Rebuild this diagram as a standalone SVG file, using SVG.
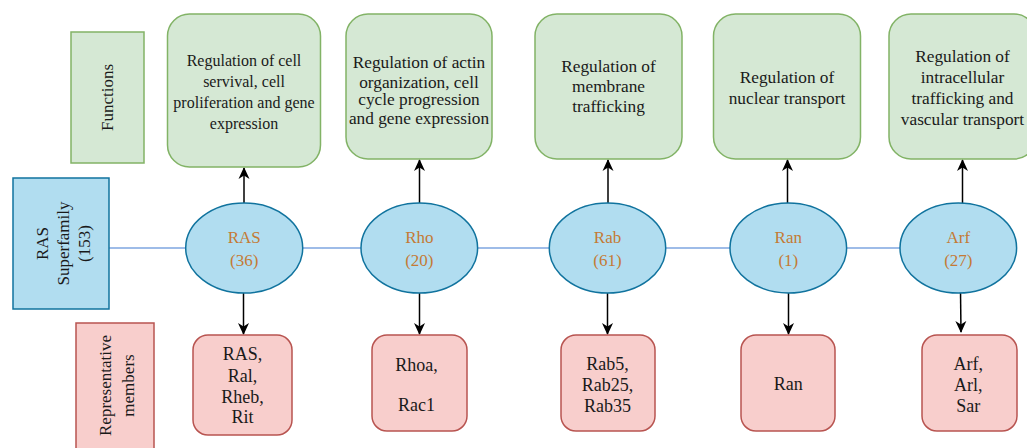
<svg xmlns="http://www.w3.org/2000/svg" width="1027" height="448" viewBox="0 0 1027 448">
<style>
text{font-family:"Liberation Serif","Times New Roman",serif;fill:#1a1a1a;text-anchor:middle}
.fn{fill:#d5e8d4;stroke:#82b366;stroke-width:1.5}
.rm{fill:#f8cecc;stroke:#b85450;stroke-width:1.5}
.bl{fill:#b1ddf0;stroke:#10739e;stroke-width:1.5}
.or{fill:#c47a35}
.hl{stroke:#7ea6e0;stroke-width:1.5;fill:none}
.ar{stroke:#000;stroke-width:1.5;fill:none;marker-end:url(#ah)}
</style>
<defs>
<marker id="ah" markerWidth="12" markerHeight="12" viewBox="0 0 12 12" refX="11" refY="6" orient="auto" markerUnits="userSpaceOnUse">
<path d="M0,0.5 L12,6 L0,11.5 L3.5,6 z" fill="#000"/>
</marker>
</defs>
<rect width="1027" height="448" fill="#fff"/>
<g id="connectors">
<path class="hl" d="M109,248 H186"/>
<path class="hl" d="M303,248 H361"/>
<path class="hl" d="M478,248 H549"/>
<path class="hl" d="M666,248 H730"/>
<path class="hl" d="M847,248 H900"/>
<path class="ar" d="M244,203 V168"/>
<path class="ar" d="M419.5,203 V160"/>
<path class="ar" d="M608,203 V160"/>
<path class="ar" d="M787.5,203 V160"/>
<path class="ar" d="M962.5,203 V160"/>
<path class="ar" d="M243.5,293 V334"/>
<path class="ar" d="M419.5,293 V334"/>
<path class="ar" d="M607.5,293 V334"/>
<path class="ar" d="M788.5,293 V334"/>
<path class="ar" d="M960.5,291 L961,332"/>
</g>
<g id="label-functions">
<rect class="fn" x="71" y="32" width="73" height="131"/>
<text transform="translate(113,97.5) rotate(-90)" font-size="17">Functions</text>
</g>
<g id="label-superfamily">
<rect class="bl" x="13" y="178" width="96" height="131"/>
<text transform="translate(48,243.5) rotate(-90)" font-size="17">RAS</text>
<text transform="translate(69,243.5) rotate(-90)" font-size="17">Superfamily</text>
<text transform="translate(90,243.5) rotate(-90)" font-size="17">(153)</text>
</g>
<g id="label-members">
<rect class="rm" x="76" y="323" width="78" height="140"/>
<text transform="translate(111,385.5) rotate(-90)" font-size="17">Representative</text>
<text transform="translate(134,385.5) rotate(-90)" font-size="17">members</text>
</g>
<g id="fn-ras">
<rect class="fn" x="167.5" y="14" width="153" height="153" rx="22"/>
<text font-size="16"><tspan x="244" y="66">Regulation of cell</tspan><tspan x="244" y="87">servival, cell</tspan><tspan x="244" y="108">proliferation and gene</tspan><tspan x="244" y="129">expression</tspan></text>
</g>
<g id="fn-rho">
<rect class="fn" x="346" y="14" width="146" height="145" rx="22"/>
<text font-size="17.3"><tspan x="419" y="68">Regulation of actin</tspan><tspan x="419" y="88">organization, cell</tspan><tspan x="419" y="105">cycle progression</tspan><tspan x="419" y="124">and gene expression</tspan></text>
</g>
<g id="fn-rab">
<rect class="fn" x="535" y="14" width="147" height="145" rx="22"/>
<text font-size="17.3"><tspan x="608.5" y="72">Regulation of</tspan><tspan x="608.5" y="92">membrane</tspan><tspan x="608.5" y="112">trafficking</tspan></text>
</g>
<g id="fn-ran">
<rect class="fn" x="713.5" y="14" width="147" height="145" rx="22"/>
<text font-size="17.3"><tspan x="787" y="83">Regulation of</tspan><tspan x="787" y="104">nuclear transport</tspan></text>
</g>
<g id="fn-arf">
<rect class="fn" x="889" y="14" width="147" height="145" rx="22"/>
<text font-size="17.3"><tspan x="962.5" y="62">Regulation of</tspan><tspan x="962.5" y="83">intracellular</tspan><tspan x="962.5" y="104">trafficking and</tspan><tspan x="962.5" y="125">vascular transport</tspan></text>
</g>
<g id="ras">
<ellipse class="bl" cx="244.2" cy="248" rx="58.5" ry="45"/>
<text class="or" font-size="17"><tspan x="244.2" y="242.5">RAS</tspan><tspan x="244.2" y="266">(36)</tspan></text>
</g>
<g id="rho">
<ellipse class="bl" cx="419.3" cy="248" rx="58.3" ry="45"/>
<text class="or" font-size="17"><tspan x="419.3" y="242.5">Rho</tspan><tspan x="419.3" y="266">(20)</tspan></text>
</g>
<g id="rab">
<ellipse class="bl" cx="607.5" cy="248" rx="58.2" ry="45"/>
<text class="or" font-size="17"><tspan x="607.5" y="242.5">Rab</tspan><tspan x="607.5" y="266">(61)</tspan></text>
</g>
<g id="ran">
<ellipse class="bl" cx="788.3" cy="248" rx="58.3" ry="45"/>
<text class="or" font-size="17"><tspan x="788.3" y="242.5">Ran</tspan><tspan x="788.3" y="266">(1)</tspan></text>
</g>
<g id="arf">
<ellipse class="bl" cx="958.3" cy="248" rx="58.3" ry="45"/>
<text class="or" font-size="17"><tspan x="958.3" y="242.5">Arf</tspan><tspan x="958.3" y="266">(27)</tspan></text>
</g>
<g id="mem-ras">
<rect class="rm" x="193" y="335" width="99" height="100" rx="15"/>
<text font-size="18"><tspan x="242.5" y="359.5">RAS,</tspan><tspan x="242.5" y="382">Ral,</tspan><tspan x="242.5" y="403">Rheb,</tspan><tspan x="242.5" y="423">Rit</tspan></text>
</g>
<g id="mem-rho">
<rect class="rm" x="372" y="335" width="95" height="96" rx="15"/>
<text font-size="18"><tspan x="416.5" y="371">Rhoa,</tspan><tspan x="416.5" y="411">Rac1</tspan></text>
</g>
<g id="mem-rab">
<rect class="rm" x="561" y="335" width="94" height="96" rx="15"/>
<text font-size="18"><tspan x="607.5" y="369.5">Rab5,</tspan><tspan x="607.5" y="390.5">Rab25,</tspan><tspan x="607.5" y="412">Rab35</tspan></text>
</g>
<g id="mem-ran">
<rect class="rm" x="741" y="335" width="94" height="96" rx="15"/>
<text font-size="18"><tspan x="788.3" y="389.5">Ran</tspan></text>
</g>
<g id="mem-arf">
<rect class="rm" x="922" y="335" width="95" height="96" rx="15"/>
<text font-size="18"><tspan x="968.3" y="369.5">Arf,</tspan><tspan x="968.3" y="391">Arl,</tspan><tspan x="968.3" y="412">Sar</tspan></text>
</g>
</svg>
